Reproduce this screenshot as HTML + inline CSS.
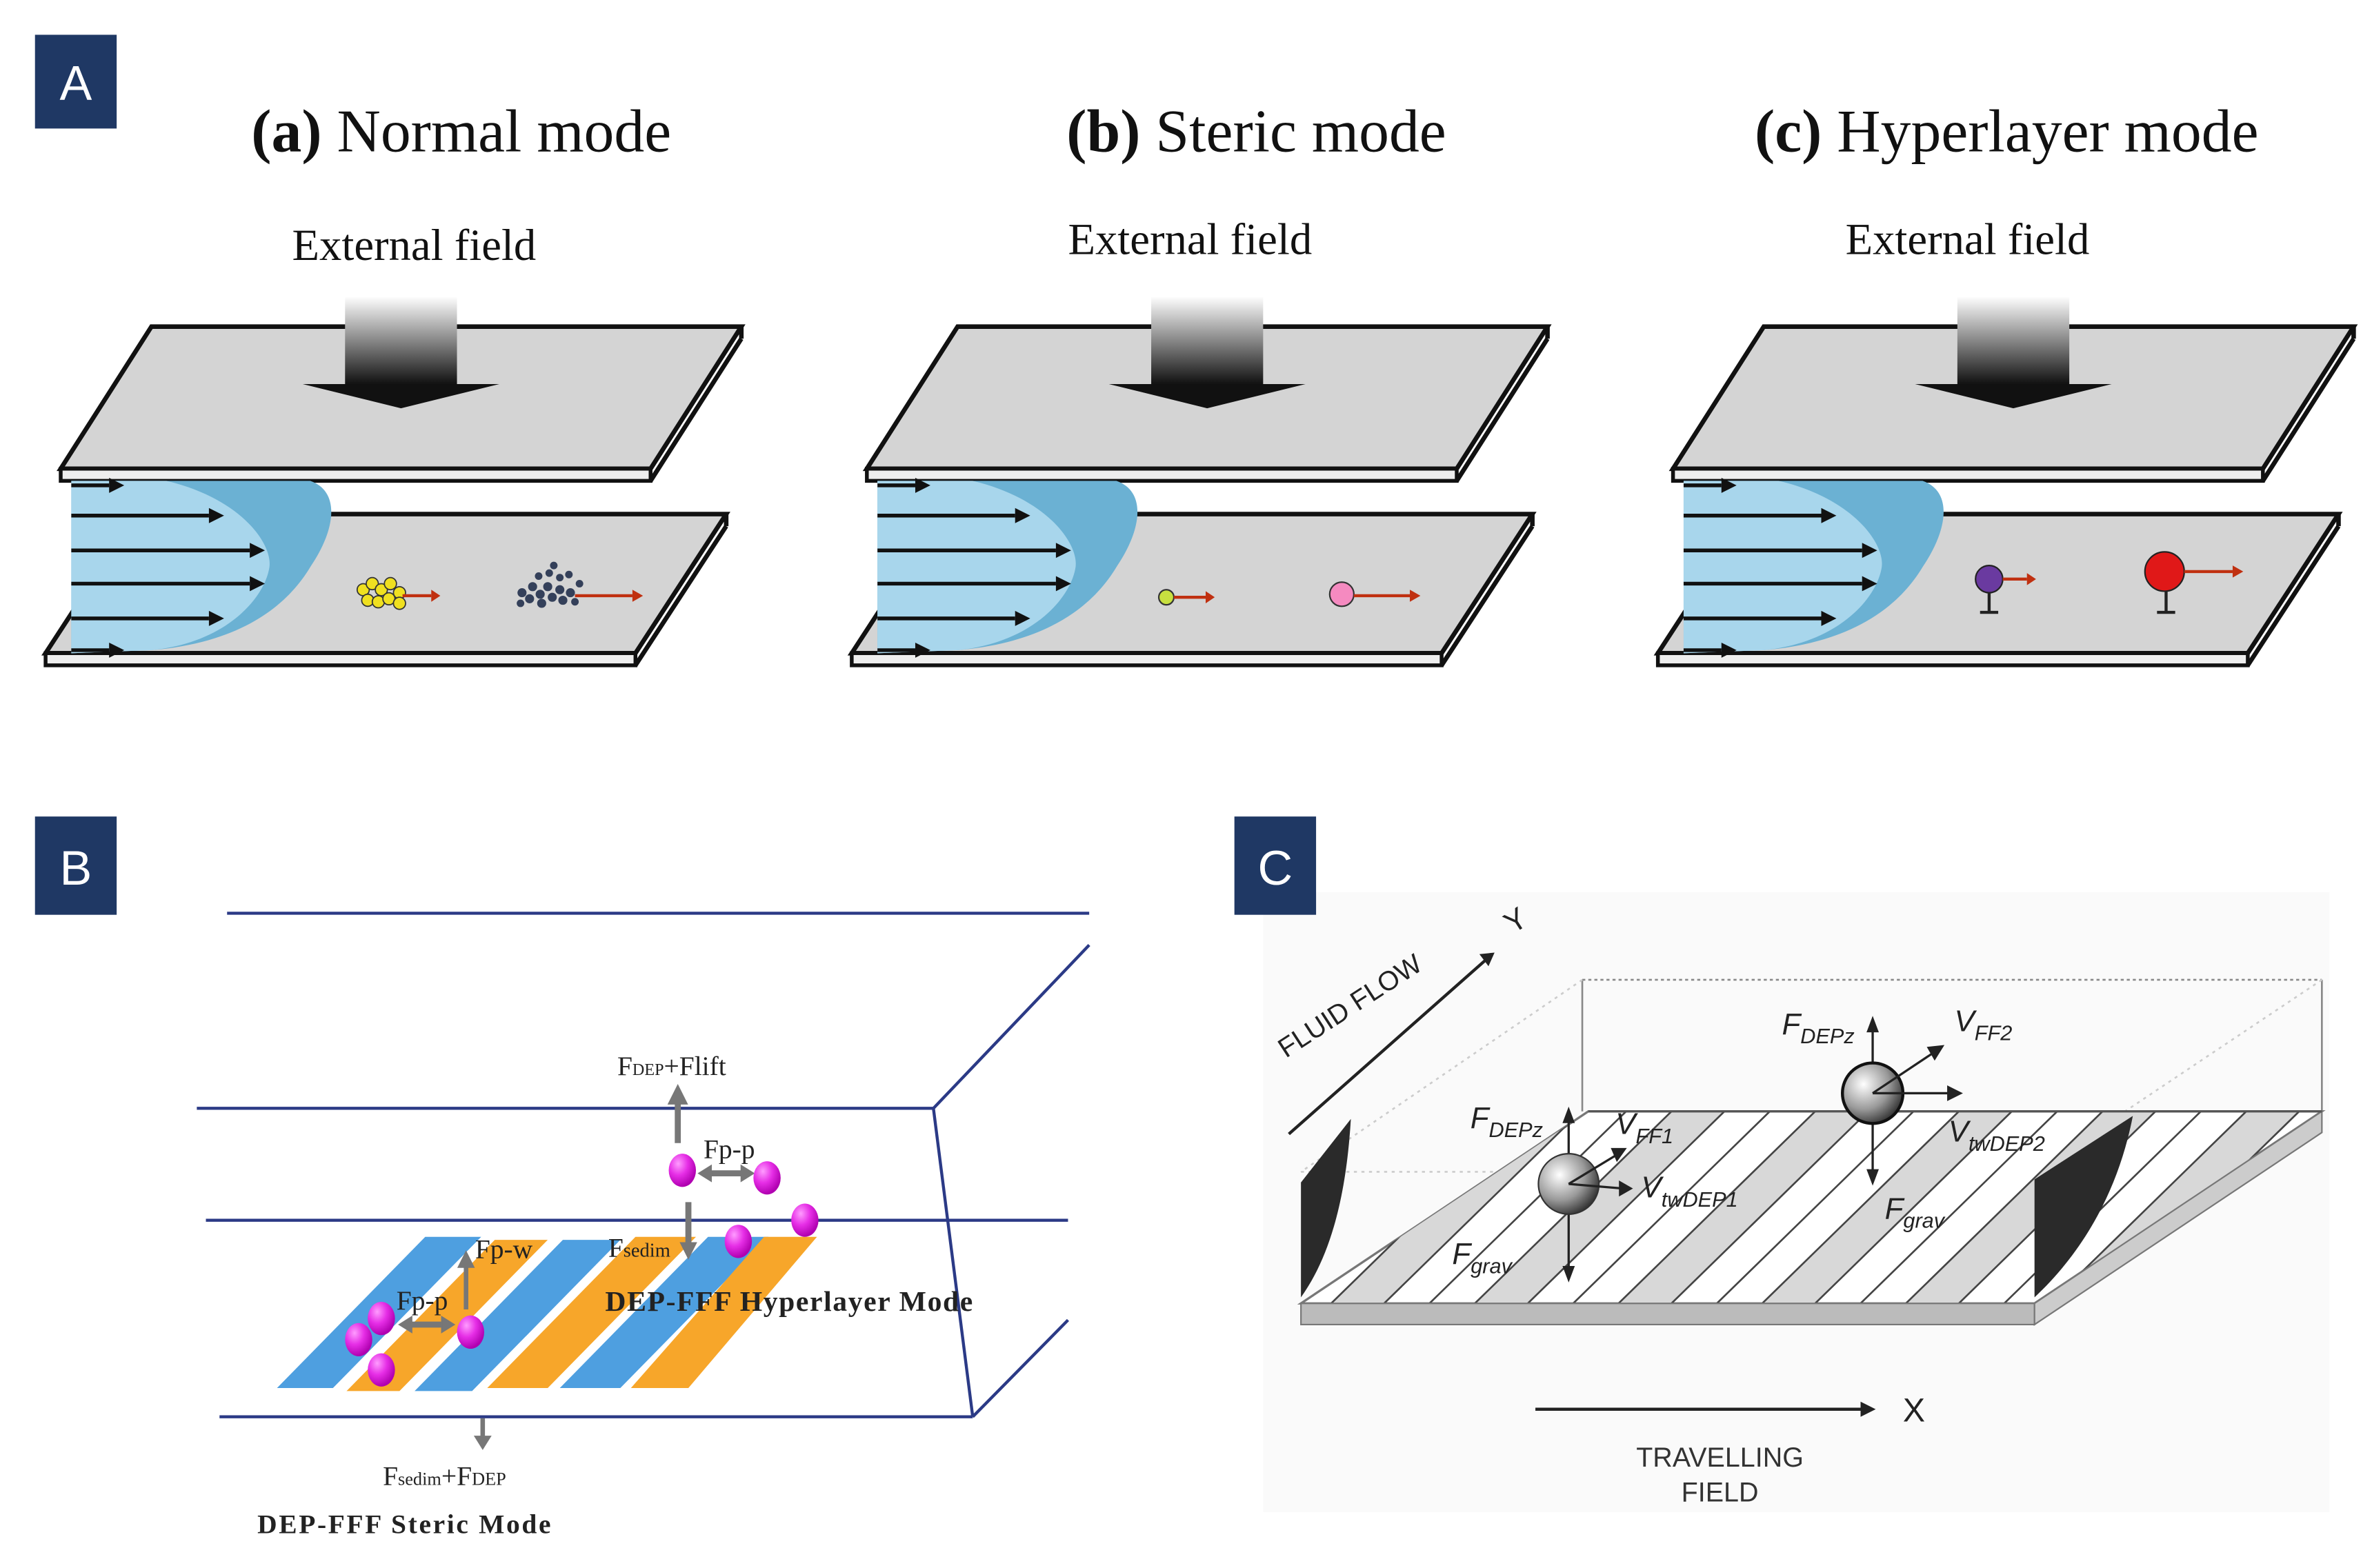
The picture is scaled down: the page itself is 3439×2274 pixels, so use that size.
<!DOCTYPE html>
<html><head><meta charset="utf-8"><style>
html,body{margin:0;padding:0;background:#fff;}
svg{display:block;}
</style></head><body>
<svg width="3439" height="2274" viewBox="0 0 1568 1037" xmlns="http://www.w3.org/2000/svg">
<defs>
<linearGradient id="ag" x1="0" y1="0" x2="0" y2="1">
<stop offset="0" stop-color="#ffffff"/><stop offset="0.5" stop-color="#888"/><stop offset="1" stop-color="#111"/>
</linearGradient>
<radialGradient id="pk" cx="0.35" cy="0.3" r="0.7">
<stop offset="0" stop-color="#ff9cff"/><stop offset="0.5" stop-color="#e62ee6"/><stop offset="1" stop-color="#b000b0"/>
</radialGradient>
<radialGradient id="sp" cx="0.35" cy="0.35" r="0.7">
<stop offset="0" stop-color="#fff"/><stop offset="0.6" stop-color="#999"/><stop offset="1" stop-color="#333"/>
</radialGradient>
<g id="chan">
<polygon points="100,216 490,216 430,310 40,310" fill="#d4d4d4" stroke="#111" stroke-width="3"/>
<polygon points="40,310 430,310 430,318 40,318" fill="#eee" stroke="#111" stroke-width="2.5"/>
<line x1="430" y1="318" x2="490" y2="224" stroke="#111" stroke-width="3"/>
<line x1="490" y1="216" x2="490" y2="224" stroke="#111" stroke-width="3"/>
<rect x="228" y="196" width="74" height="58" fill="url(#ag)"/>
<polygon points="200,254 330,254 265,270" fill="#111"/>
<polygon points="90,340 480,340 420,432 30,432" fill="#d4d4d4" stroke="#111" stroke-width="3"/>
<polygon points="30,432 420,432 420,440 30,440" fill="#eee" stroke="#111" stroke-width="2.5"/>
<line x1="420" y1="440" x2="480" y2="348" stroke="#111" stroke-width="3"/>
<line x1="480" y1="340" x2="480" y2="348" stroke="#111" stroke-width="3"/>
<path d="M47,318 L205,318 C225,325 222,350 205,375 C190,400 160,425 100,430 L47,432 Z" fill="#6bb1d3"/>
<path d="M47,318 L110,318 C160,330 180,360 178,375 C175,395 150,425 100,430 L47,432 Z" fill="#a8d6ec"/>
<g stroke="#111" stroke-width="2.5">
<line x1="47" y1="321" x2="72" y2="321"/><line x1="47" y1="341" x2="138" y2="341"/>
<line x1="47" y1="364" x2="165" y2="364"/><line x1="47" y1="386" x2="165" y2="386"/>
<line x1="47" y1="409" x2="138" y2="409"/><line x1="47" y1="430" x2="72" y2="430"/>
</g>
<g fill="#111">
<polygon points="72,316 82,321 72,326"/><polygon points="138,336 148,341 138,346"/>
<polygon points="165,359 175,364 165,369"/><polygon points="165,381 175,386 165,391"/>
<polygon points="138,404 148,409 138,414"/><polygon points="72,425 82,430 72,435"/>
</g>
</g>
</defs>

<!-- Panel A -->
<rect x="23" y="23" width="54" height="62" fill="#1f3864"/>
<text x="50" y="66" font-family="Liberation Sans, sans-serif" font-size="32" fill="#fff" text-anchor="middle">A</text>
<g font-family="Liberation Serif, serif" font-size="40" fill="#111">
<text x="166" y="100"><tspan font-weight="bold">(a)</tspan> Normal mode</text>
<text x="705" y="100"><tspan font-weight="bold">(b)</tspan> Steric mode</text>
<text x="1160" y="100"><tspan font-weight="bold">(c)</tspan> Hyperlayer mode</text>
</g>
<g font-family="Liberation Serif, serif" font-size="29.5" fill="#111">
<text x="193" y="172">External field</text>
<text x="706" y="168">External field</text>
<text x="1220" y="168">External field</text>
</g>
<use href="#chan"/>
<use href="#chan" x="533"/>
<use href="#chan" x="1066"/>
<g fill="#f0e020" stroke="#333" stroke-width="0.8">
<circle cx="240" cy="390" r="4"/><circle cx="246" cy="386" r="4"/><circle cx="252" cy="390" r="4"/><circle cx="258" cy="386" r="4"/>
<circle cx="243" cy="397" r="4"/><circle cx="250" cy="398" r="4"/><circle cx="257" cy="396" r="4"/><circle cx="264" cy="392" r="4"/><circle cx="264" cy="399" r="4"/>
</g>
<line x1="266" y1="394" x2="285" y2="394" stroke="#c03010" stroke-width="2"/><polygon points="285,390 291,394 285,398" fill="#c03010"/>
<g fill="#34405a">
<circle cx="345" cy="392" r="3"/><circle cx="350" cy="396" r="3"/><circle cx="352" cy="388" r="3"/><circle cx="357" cy="393" r="3"/><circle cx="358" cy="399" r="3"/>
<circle cx="362" cy="388" r="3"/><circle cx="365" cy="395" r="3"/><circle cx="370" cy="390" r="3"/><circle cx="372" cy="397" r="3"/><circle cx="377" cy="392" r="3"/>
<circle cx="344" cy="399" r="2.5"/><circle cx="380" cy="398" r="2.5"/>
<circle cx="356" cy="381" r="2.5"/><circle cx="363" cy="379" r="2.5"/><circle cx="370" cy="382" r="2.5"/><circle cx="376" cy="380" r="2.5"/><circle cx="366" cy="374" r="2.5"/><circle cx="383" cy="386" r="2.5"/>
</g>
<line x1="380" y1="394" x2="418" y2="394" stroke="#c03010" stroke-width="2"/><polygon points="418,390 425,394 418,398" fill="#c03010"/>
<circle cx="771" cy="395" r="5" fill="#c8e040" stroke="#333"/>
<line x1="776" y1="395" x2="797" y2="395" stroke="#c03010" stroke-width="2"/><polygon points="797,391 803,395 797,399" fill="#c03010"/>
<circle cx="887" cy="393" r="8" fill="#f58ac0" stroke="#333"/>
<line x1="895" y1="394" x2="932" y2="394" stroke="#c03010" stroke-width="2"/><polygon points="932,390 939,394 932,398" fill="#c03010"/>
<line x1="1315" y1="392" x2="1315" y2="405" stroke="#222" stroke-width="2"/><line x1="1309" y1="405" x2="1321" y2="405" stroke="#222" stroke-width="2"/>
<circle cx="1315" cy="383" r="9" fill="#6a3aa0" stroke="#222"/>
<line x1="1324" y1="383" x2="1340" y2="383" stroke="#c03010" stroke-width="2"/><polygon points="1340,379 1346,383 1340,387" fill="#c03010"/>
<line x1="1432" y1="390" x2="1432" y2="405" stroke="#222" stroke-width="2"/><line x1="1426" y1="405" x2="1438" y2="405" stroke="#222" stroke-width="2"/>
<circle cx="1431" cy="378" r="13" fill="#e01818" stroke="#222"/>
<line x1="1444" y1="378" x2="1476" y2="378" stroke="#c03010" stroke-width="2"/><polygon points="1476,374 1483,378 1476,382" fill="#c03010"/>

<!-- Panel B -->
<rect x="23" y="540" width="54" height="65" fill="#1f3864"/>
<text x="50" y="585" font-family="Liberation Sans, sans-serif" font-size="32" fill="#fff" text-anchor="middle">B</text>
<g stroke="#2b3a86" stroke-width="2" fill="none">
<line x1="150" y1="604" x2="720" y2="604"/>
<line x1="720" y1="625" x2="617" y2="733"/>
<line x1="130" y1="733" x2="617" y2="733"/>
<line x1="136" y1="807" x2="706" y2="807"/>
<line x1="617" y1="733" x2="643" y2="937"/>
<line x1="145" y1="937" x2="643" y2="937"/>
<line x1="643" y1="937" x2="706" y2="873"/>
</g>
<g>
<polygon points="183,918 220,918 318,818 281,818" fill="#4e9fe0"/>
<polygon points="229,920 264,920 362,820 327,820" fill="#f7a62a"/>
<polygon points="274,920 312,920 410,820 372,820" fill="#4e9fe0"/>
<polygon points="322,918 362,918 460,818 420,818" fill="#f7a62a"/>
<polygon points="370,918 410,918 508,818 468,818" fill="#4e9fe0"/>
<polygon points="417,918 455,918 540,818 505,818" fill="#f7a62a"/>
</g>
<g fill="#777" stroke="#777">
<line x1="448" y1="756" x2="448" y2="728" stroke-width="4"/><polygon points="442,730 448,718 454,730"/>
<line x1="470" y1="776" x2="490" y2="776" stroke-width="4"/><polygon points="470,771 462,776 470,781"/><polygon points="490,771 498,776 490,781"/>
<line x1="455" y1="795" x2="455" y2="822" stroke-width="4"/><polygon points="450,822 455,832 460,822"/>
<line x1="308" y1="866" x2="308" y2="838" stroke-width="3"/><polygon points="303,838 308,828 313,838"/>
<line x1="272" y1="876" x2="292" y2="876" stroke-width="4"/><polygon points="272,871 264,876 272,881"/><polygon points="292,871 300,876 292,881"/>
<line x1="319" y1="938" x2="319" y2="950" stroke-width="3"/><polygon points="314,950 319,958 324,950"/>
</g>
<g fill="url(#pk)">
<ellipse cx="451" cy="774" rx="9" ry="11"/><ellipse cx="507" cy="779" rx="9" ry="11"/>
<ellipse cx="488" cy="821" rx="9" ry="11"/><ellipse cx="532" cy="807" rx="9" ry="11"/>
<ellipse cx="237" cy="886" rx="9" ry="11"/><ellipse cx="252" cy="872" rx="9" ry="11"/>
<ellipse cx="252" cy="906" rx="9" ry="11"/><ellipse cx="311" cy="881" rx="9" ry="11"/>
</g>
<g font-family="Liberation Serif, serif" fill="#222" font-size="18">
<text x="408" y="711">F<tspan font-size="11">DEP</tspan>+F<tspan>lift</tspan></text>
<text x="465" y="766">F<tspan>p-p</tspan></text>
<text x="402" y="831">F<tspan font-size="13">sedim</tspan></text>
<text x="314" y="832">F<tspan>p-w</tspan></text>
<text x="262" y="866">F<tspan>p-p</tspan></text>
<text x="253" y="982">F<tspan font-size="12">sedim</tspan>+F<tspan font-size="12">DEP</tspan></text>
<text x="400" y="867" font-weight="bold" font-size="19" textLength="243">DEP-FFF Hyperlayer Mode</text>
<text x="170" y="1014" font-weight="bold" font-size="18" textLength="194">DEP-FFF Steric Mode</text>
</g>

<!-- Panel C -->
<rect x="835" y="590" width="705" height="410" fill="#fafafa"/>
<rect x="816" y="540" width="54" height="65" fill="#1f3864"/>
<text x="843" y="585" font-family="Liberation Sans, sans-serif" font-size="32" fill="#fff" text-anchor="middle">C</text>
<g stroke="#888" stroke-width="1.2" fill="none">
<line x1="1046" y1="648" x2="1535" y2="648" stroke-dasharray="2,2"/>
<line x1="1046" y1="648" x2="1046" y2="735"/>
<line x1="1535" y1="648" x2="1535" y2="735"/>
<line x1="1046" y1="648" x2="860" y2="775" stroke="#ccc" stroke-dasharray="2,3"/>
<line x1="1535" y1="648" x2="1345" y2="775" stroke="#ccc" stroke-dasharray="2,3"/>
<line x1="860" y1="775" x2="1345" y2="775" stroke="#ccc" stroke-dasharray="2,3"/>
</g>
<polygon points="1050,735 1535,735 1345,862 860,862" fill="#fff" stroke="#777" stroke-width="1.5"/>
<clipPath id="pc"><polygon points="1050,735 1535,735 1345,862 860,862"/></clipPath>
<g clip-path="url(#pc)">
<g fill="#d8d8d8">
<polygon points="880,862 915,862 1045,735 1010,735"/>
<polygon points="975,862 1010,862 1140,735 1105,735"/>
<polygon points="1070,862 1105,862 1235,735 1200,735"/>
<polygon points="1165,862 1200,862 1330,735 1295,735"/>
<polygon points="1260,862 1295,862 1425,735 1390,735"/>
<polygon points="1355,862 1390,862 1520,735 1485,735"/>
</g>
<g stroke="#444" stroke-width="1.2">
<line x1="832" y1="862" x2="962" y2="735"/><line x1="880" y1="862" x2="1010" y2="735"/><line x1="915" y1="862" x2="1045" y2="735"/>
<line x1="945" y1="862" x2="1075" y2="735"/><line x1="975" y1="862" x2="1105" y2="735"/><line x1="1010" y1="862" x2="1140" y2="735"/>
<line x1="1040" y1="862" x2="1170" y2="735"/><line x1="1070" y1="862" x2="1200" y2="735"/><line x1="1105" y1="862" x2="1235" y2="735"/>
<line x1="1135" y1="862" x2="1265" y2="735"/><line x1="1165" y1="862" x2="1295" y2="735"/><line x1="1200" y1="862" x2="1330" y2="735"/>
<line x1="1230" y1="862" x2="1360" y2="735"/><line x1="1260" y1="862" x2="1390" y2="735"/><line x1="1295" y1="862" x2="1425" y2="735"/>
<line x1="1325" y1="862" x2="1455" y2="735"/><line x1="1355" y1="862" x2="1485" y2="735"/><line x1="1390" y1="862" x2="1520" y2="735"/>
</g>
</g>
<polygon points="860,862 1345,862 1345,876 860,876" fill="#bbb" stroke="#777"/>
<polygon points="1345,862 1535,735 1535,749 1345,876" fill="#ccc" stroke="#777"/>
<line x1="1050" y1="735" x2="1535" y2="735" stroke="#555" stroke-width="1.5"/>
<path d="M860,782 L893,740 C890,790 880,830 860,858 Z" fill="#2a2a2a"/>
<path d="M1345,780 L1410,738 C1400,790 1375,830 1345,858 Z" fill="#2a2a2a"/>
<g stroke="#222" stroke-width="1.5" fill="#222">
<line x1="1037" y1="738" x2="1037" y2="842"/><polygon points="1034,742 1037,734 1040,742"/><polygon points="1034,838 1037,846 1040,838"/>
<line x1="1238" y1="678" x2="1238" y2="778"/><polygon points="1235,682 1238,674 1241,682"/><polygon points="1235,774 1238,782 1241,774"/>
</g>
<circle cx="1037" cy="783" r="20" fill="url(#sp)" stroke="#333"/>
<circle cx="1238" cy="723" r="20" fill="url(#sp)" stroke="#111" stroke-width="2"/>
<g stroke="#222" stroke-width="1.5" fill="#222">
<line x1="1037" y1="783" x2="1070" y2="763"/><polygon points="1066,760 1074,760 1069,767"/>
<line x1="1037" y1="783" x2="1073" y2="786"/><polygon points="1071,782 1078,786 1071,790"/>
<line x1="1238" y1="723" x2="1280" y2="695"/><polygon points="1275,693 1284,692 1279,700"/>
<line x1="1238" y1="723" x2="1290" y2="723"/><polygon points="1288,719 1296,723 1288,727"/>
</g>
<g font-family="Liberation Sans, sans-serif" font-style="italic" fill="#222" font-size="20">
<text x="1178" y="684">F<tspan font-size="14" dy="6">DEPz</tspan></text>
<text x="1292" y="682">V<tspan font-size="14" dy="6">FF2</tspan></text>
<text x="972" y="746">F<tspan font-size="14" dy="6">DEPz</tspan></text>
<text x="1068" y="750">V<tspan font-size="14" dy="6">FF1</tspan></text>
<text x="1085" y="792">V<tspan font-size="14" dy="6">twDEP1</tspan></text>
<text x="1288" y="755">V<tspan font-size="14" dy="6">twDEP2</tspan></text>
<text x="1246" y="806">F<tspan font-size="14" dy="6">grav</tspan></text>
<text x="960" y="836">F<tspan font-size="14" dy="6">grav</tspan></text>
</g>
<text x="850" y="700" transform="rotate(-33 850 700)" font-family="Liberation Sans, sans-serif" font-size="18" fill="#222">FLUID FLOW</text>
<line x1="852" y1="750" x2="982" y2="635" stroke="#222" stroke-width="2"/>
<polygon points="978,631 988,630 984,639" fill="#222"/>
<text x="1000" y="618" transform="rotate(-33 1000 618)" font-family="Liberation Sans, sans-serif" font-size="20" fill="#222">Y</text>
<line x1="1015" y1="932" x2="1232" y2="932" stroke="#222" stroke-width="2"/>
<polygon points="1230,927 1240,932 1230,937" fill="#222"/>
<text x="1258" y="940" font-family="Liberation Sans, sans-serif" font-size="22" fill="#222">X</text>
<text x="1137" y="970" font-family="Liberation Sans, sans-serif" font-size="18" fill="#333" text-anchor="middle">TRAVELLING</text>
<text x="1137" y="993" font-family="Liberation Sans, sans-serif" font-size="18" fill="#333" text-anchor="middle">FIELD</text>
</svg>
</body></html>
